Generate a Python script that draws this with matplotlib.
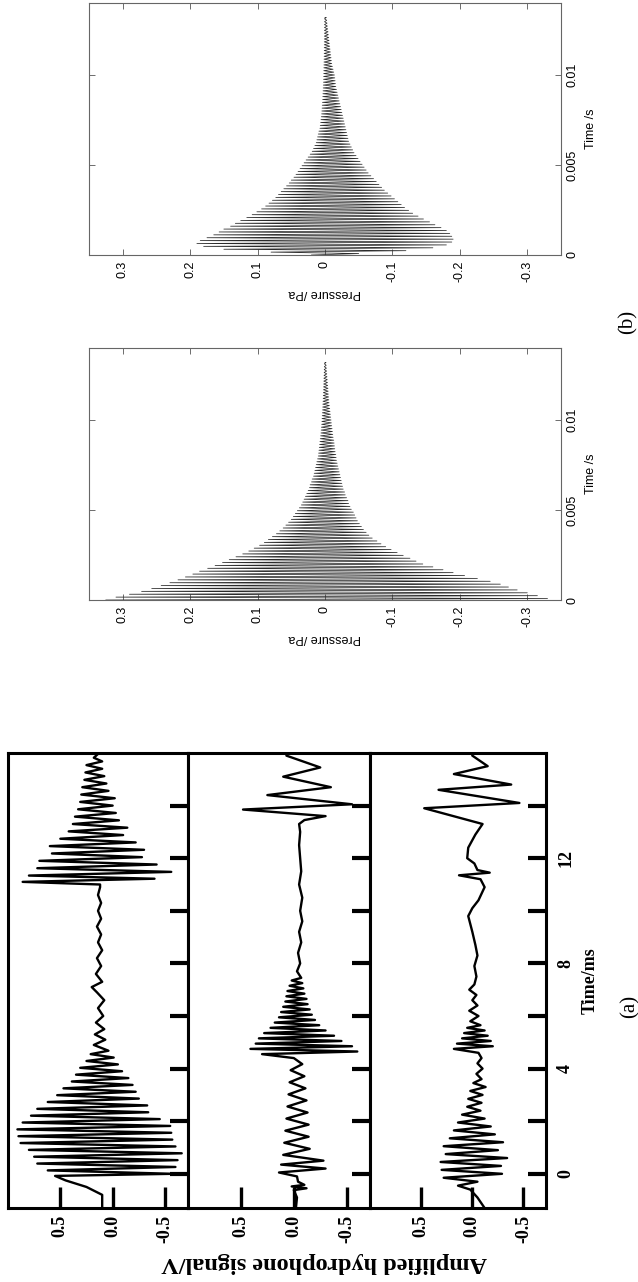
import matplotlib.pyplot as plt

# ---------------- data (a): hydrophone traces, time in ms, signal in V ----------------
s1_time = [-1.3, -0.8, -0.5, -0.25, -0.08,
           0.00, 0.13, 0.26, 0.39, 0.52, 0.65, 0.78, 0.91, 1.04, 1.17, 1.30, 1.43, 1.56, 1.69, 1.82,
           1.95, 2.08, 2.21, 2.34, 2.47, 2.60, 2.73, 2.86, 2.99, 3.12, 3.25, 3.38, 3.51, 3.64, 3.77,
           3.90, 4.03, 4.16, 4.29, 4.42, 4.55, 4.68,
           4.9, 5.1, 5.3, 5.5, 5.75, 6.0, 6.3, 6.6, 6.9, 7.1, 7.3, 7.6, 7.9, 8.2, 8.5, 8.8, 9.1, 9.4,
           9.7, 10.0, 10.3, 10.6, 10.9,
           11.00, 11.10, 11.22, 11.34, 11.48, 11.62, 11.76, 11.90, 12.04, 12.18, 12.32, 12.46, 12.60,
           12.74, 12.88, 13.02, 13.16, 13.30, 13.44, 13.58, 13.72, 13.86, 14.00, 14.14, 14.28, 14.42,
           14.56, 14.70, 14.84, 14.98, 15.12, 15.26, 15.40, 15.54, 15.68, 15.82, 16.0]
s1_volt = [0.10, 0.10, 0.25, 0.45, 0.55,
           -0.58, 0.62, -0.60, 0.72, -0.62, 0.75, -0.66, 0.80, -0.60, 0.88, -0.57, 0.90, -0.56, 0.91,
           -0.55, 0.86, -0.45, 0.78, -0.34, 0.72, -0.33, 0.62, -0.25, 0.53, -0.22, 0.47, -0.19, 0.39,
           -0.15, 0.35, -0.09, 0.31, -0.05, 0.25, -0.01, 0.21, 0.04,
           0.18, 0.07, 0.17, 0.08, 0.16, 0.09, 0.14, 0.08, 0.15, 0.20, 0.10, 0.16, 0.11, 0.15, 0.10,
           0.14, 0.11, 0.15, 0.11, 0.14, 0.11, 0.14, 0.12,
           0.12, 0.86, -0.40, 0.80, -0.56, 0.72, -0.42, 0.70, -0.28, 0.58, -0.30, 0.60, -0.22, 0.50,
           -0.10, 0.42, -0.14, 0.38, -0.06, 0.36, -0.03, 0.33, 0.00, 0.31, -0.02, 0.30, 0.04, 0.29,
           0.06, 0.27, 0.08, 0.26, 0.10, 0.25, 0.10, 0.18, 0.13]

s2_time = [-1.3, -0.9, -0.62, -0.55, -0.48, -0.42, -0.3, -0.1,
           0.05, 0.2, 0.35, 0.5,
           0.72, 0.95, 1.18, 1.41, 1.64, 1.87, 2.1, 2.33, 2.56, 2.79, 3.02, 3.25, 3.48, 3.71, 3.94,
           4.17, 4.4,
           4.55, 4.65, 4.75, 4.85, 4.95, 5.05, 5.15, 5.25, 5.35, 5.45, 5.55, 5.65, 5.75, 5.85, 5.95,
           6.05, 6.15, 6.25, 6.35, 6.45, 6.55, 6.65, 6.75, 6.85, 6.95, 7.05, 7.15, 7.25, 7.35, 7.45,
           7.7, 8.0, 8.4, 8.8, 9.2, 9.6, 10.0, 10.5, 11.0, 11.5, 12.0, 12.5, 13.0, 13.3,
           13.45, 13.6, 13.85, 14.05, 14.4, 14.7, 15.1, 15.45, 15.9, 16.0]
s2_volt = [-0.02, -0.03, 0.0, -0.12, 0.02, -0.10, -0.04, -0.03,
           0.14, -0.30, 0.12, -0.28,
           0.10, -0.15, 0.09, -0.14, 0.08, -0.14, 0.07, -0.13, 0.06, -0.12, 0.05, -0.11, 0.04,
           -0.10, 0.03, -0.08, 0.0,
           0.30, -0.60, 0.41, -0.55, 0.36, -0.45, 0.33, -0.38, 0.28, -0.30, 0.22, -0.24, 0.18, -0.20,
           0.14, -0.17, 0.12, -0.15, 0.10, -0.13, 0.08, -0.12, 0.07, -0.10, 0.06, -0.09, 0.04, -0.08,
           0.02, -0.07,
           -0.03, -0.06, -0.04, -0.07, -0.05, -0.08, -0.06, -0.08, -0.05, -0.07, -0.06, -0.05, -0.06,
           -0.05,
           -0.10, -0.30, 0.48, -0.55, 0.25, -0.35, 0.10, -0.25, 0.07, 0.05]

s3_time = [-1.3, -0.9, -0.6,
           -0.45, -0.3, -0.15, 0.0, 0.15, 0.3, 0.45, 0.6, 0.75, 0.9, 1.05, 1.2, 1.35, 1.5, 1.65, 1.8,
           1.95, 2.1, 2.25, 2.4, 2.55, 2.7, 2.85, 3.0, 3.15, 3.3, 3.45, 3.6,
           3.8, 4.0, 4.2, 4.4, 4.6,
           4.75, 4.85, 4.95, 5.05, 5.15, 5.25, 5.35, 5.45, 5.55, 5.65,
           5.8, 6.0, 6.2, 6.4, 6.6, 6.8, 7.0, 7.2, 7.5, 7.9, 8.3, 8.7, 9.2, 9.8, 10.1, 10.4, 10.9, 11.2,
           11.35, 11.45, 11.55, 11.8, 12.0, 12.4, 12.9, 13.3,
           13.9, 14.1, 14.6, 14.8, 15.2, 15.5, 15.9, 16.0]
s3_volt = [-0.12, -0.05, 0.02,
           0.14, -0.05, 0.28, -0.29, 0.30, -0.28, 0.31, -0.34, 0.26, -0.25, 0.28, -0.30, 0.22, -0.22,
           0.18, -0.18, 0.14, -0.12, 0.10, -0.08, 0.05, -0.09, 0.04, -0.10, 0.02, -0.13, -0.01, -0.09,
           -0.04, -0.10, -0.05, -0.09, -0.06,
           0.18, -0.20, 0.15, -0.18, 0.10, -0.15, 0.08, -0.12, 0.05, -0.08,
           0.02, -0.06, 0.03, -0.05, 0.0, -0.04, 0.03, -0.02, -0.04, -0.02, -0.05, -0.03, 0.0, 0.04,
           0.0, -0.06, -0.12, -0.08,
           0.13, -0.17, -0.05, -0.02, 0.05, 0.04, -0.03, -0.10,
           0.47, -0.46, 0.33, -0.38, 0.18, -0.15, 0.0, 0.0]

a_ticks = [0.5, 0.0, -0.5]
a_ticklabels = ["0.5", "0.0", "-0.5"]
ms_ticks = [0, 2, 4, 6, 8, 10, 12, 14]
ms_labels = ["0", "", "4", "", "8", "", "12", ""]

# ---------------- data (b): simulated pressure, peak values of each cycle ----------------
b_step = 0.00016   # one oscillation cycle, s
b_end = 0.0132
# upper box in picture
bt_pos = [0.02, 0.08, 0.15, 0.18, 0.19, 0.185, 0.175, 0.165, 0.157, 0.15,
          0.14, 0.133, 0.125, 0.116, 0.108, 0.101, 0.094, 0.088, 0.083, 0.078,
          0.073, 0.069, 0.065, 0.061, 0.057, 0.053, 0.050, 0.046, 0.043, 0.040,
          0.037, 0.034, 0.031, 0.028, 0.025, 0.022, 0.019, 0.017, 0.015, 0.013,
          0.012, 0.011, 0.010, 0.009, 0.0075, 0.007, 0.0065, 0.006, 0.0055, 0.005,
          0.0047, 0.0044, 0.0041, 0.0038, 0.0035, 0.0033, 0.0031, 0.0029, 0.0027, 0.0025,
          0.0023, 0.0022, 0.0021, 0.002, 0.0019, 0.0018, 0.0017, 0.0016, 0.0015, 0.0014,
          0.0013, 0.0012, 0.0012, 0.0011, 0.0011, 0.001, 0.001, 0.0009, 0.0009, 0.0008,
          0.0008, 0.0007, 0.0007]
bt_neg = [-0.05, -0.12, -0.16, -0.18, -0.188, -0.19, -0.188, -0.185, -0.18, -0.172,
          -0.163, -0.155, -0.146, -0.138, -0.13, -0.124, -0.118, -0.113, -0.108, -0.103,
          -0.098, -0.093, -0.088, -0.084, -0.08, -0.076, -0.072, -0.068, -0.064, -0.061,
          -0.058, -0.055, -0.052, -0.049, -0.046, -0.043, -0.041, -0.039, -0.037, -0.035,
          -0.034, -0.033, -0.032, -0.031, -0.030, -0.029, -0.028, -0.027, -0.026, -0.025,
          -0.024, -0.023, -0.022, -0.021, -0.020, -0.019, -0.018, -0.017, -0.016, -0.0155,
          -0.015, -0.0145, -0.014, -0.013, -0.012, -0.011, -0.010, -0.0095, -0.009, -0.0085,
          -0.008, -0.0075, -0.007, -0.0065, -0.006, -0.0055, -0.005, -0.0045, -0.004, -0.0035,
          -0.003, -0.0025, -0.002]
# lower box in picture
bl_pos = [0.325, 0.31, 0.29, 0.272, 0.257, 0.243, 0.23, 0.218, 0.207, 0.196,
          0.186, 0.174, 0.163, 0.152, 0.142, 0.132, 0.122, 0.113, 0.105, 0.097,
          0.09, 0.084, 0.078, 0.072, 0.067, 0.062, 0.058, 0.054, 0.050, 0.047,
          0.044, 0.041, 0.038, 0.035, 0.033, 0.031, 0.029, 0.027, 0.025, 0.023,
          0.022, 0.020, 0.019, 0.017, 0.016, 0.015, 0.014, 0.013, 0.012, 0.011,
          0.010, 0.0095, 0.009, 0.0085, 0.008, 0.0075, 0.007, 0.0065, 0.006, 0.0057,
          0.0054, 0.005, 0.0047, 0.0045, 0.0042, 0.004, 0.0037, 0.0035, 0.0033, 0.003,
          0.0028, 0.0026, 0.0025, 0.0023, 0.0022, 0.002, 0.0018, 0.0017, 0.0015, 0.0013,
          0.0012, 0.001, 0.0009]
bl_neg = [-0.33, -0.315, -0.30, -0.285, -0.272, -0.26, -0.245, -0.226, -0.207, -0.19,
          -0.175, -0.16, -0.145, -0.135, -0.126, -0.116, -0.107, -0.098, -0.09, -0.083,
          -0.077, -0.07, -0.065, -0.061, -0.057, -0.054, -0.051, -0.048, -0.046, -0.044,
          -0.042, -0.039, -0.037, -0.035, -0.034, -0.032, -0.030, -0.029, -0.027, -0.026,
          -0.025, -0.024, -0.023, -0.022, -0.021, -0.020, -0.019, -0.018, -0.017, -0.0165,
          -0.016, -0.015, -0.0145, -0.014, -0.0135, -0.013, -0.012, -0.0115, -0.011, -0.0105,
          -0.01, -0.0095, -0.009, -0.0085, -0.008, -0.0075, -0.007, -0.0065, -0.006, -0.0057,
          -0.0054, -0.005, -0.0047, -0.0044, -0.004, -0.0037, -0.0034, -0.003, -0.0027, -0.0024,
          -0.0021, -0.0018, -0.0015]

p_ticks = [0.3, 0.2, 0.1, 0, -0.1, -0.2, -0.3]
p_labels = ["0.3", "0.2", "0.1", "0", "-0.1", "-0.2", "-0.3"]
s_ticks = [0, 0.005, 0.01]
s_labels = ["0", "0.005", "0.01"]

# ---------------- figure (the whole page is turned 90 degrees) ----------------
W, H = 638, 1282
fig = plt.figure(figsize=(W / 100, H / 100), dpi=100)
serif = "Liberation Serif"
sans = "Liberation Sans"


def box(x0, y0, x1, y1):
    # pixel box, origin top-left -> axes
    return fig.add_axes([x0 / W, 1 - y1 / H, (x1 - x0) / W, (y1 - y0) / H])


def ringing(pos, neg, step):
    t, p = [], []
    for k, (a, b) in enumerate(zip(pos, neg)):
        t += [k * step, k * step + step / 2]
        p += [a, b]
    t.append(b_end)
    p.append(0.0)
    return t, p


# (b) two simulations
for (x0, y0, x1, y1), pos, neg in zip([(89, 3, 561, 255), (89, 348, 561, 600)],
                                      [bt_pos, bl_pos], [bt_neg, bl_neg]):
    ax = box(x0, y0, x1, y1)
    t, p = ringing(pos, neg, b_step)
    ax.plot(p, t, color="#2a2a2a", lw=0.55)
    ax.set_xlim(0.35, -0.35)
    ax.set_ylim(0, 0.014)
    ax.set_xticks(p_ticks)
    ax.set_xticklabels(p_labels, rotation=90, fontsize=9, family=sans)
    ax.yaxis.tick_right()
    ax.set_yticks(s_ticks)
    ax.set_yticklabels(s_labels, rotation=90, fontsize=9, family=sans, va="center")
    ax.tick_params(direction="in", length=4, width=0.6, color="#555",
                   top=True, bottom=True, left=True, right=True,
                   labelleft=False, labelright=True, labeltop=False, pad=4)
    ax.yaxis.set_label_position("right")
    ax.set_ylabel("Time /s", rotation=90, fontsize=9, family=sans, labelpad=5)
    ax.set_xlabel("Pressure /Pa", rotation=180, fontsize=9, family=sans, labelpad=4)
    for s in ax.spines.values():
        s.set_color("#666666")
        s.set_linewidth(0.8)

# (a) three measured traces
edges = [8, 188, 370, 546]
for i, (tt, vv) in enumerate([(s1_time, s1_volt), (s2_time, s2_volt), (s3_time, s3_volt)]):
    ax = box(edges[i], 753, edges[i + 1], 1208)
    ax.plot(vv, tt, color="black", lw=1.7)
    ax.set_xlim(1.0, -0.72)
    ax.set_ylim(-1.3, 16.0)
    ax.set_xticks(a_ticks)
    ax.set_xticklabels(a_ticklabels, rotation=90, fontsize=13, family=serif, weight="bold")
    ax.tick_params(axis="x", direction="in", length=15, width=2.4, bottom=True, top=False, pad=5)
    ax.yaxis.tick_right()
    ax.set_yticks(ms_ticks)
    ax.set_yticklabels(ms_labels, rotation=90, fontsize=13, family=serif, weight="bold", va="center")
    ax.tick_params(axis="y", direction="in", length=13, width=3, left=False, right=True,
                   labelleft=False, labelright=(i == 2), pad=8)
    for s in ax.spines.values():
        s.set_linewidth(2.2)

fig.text(324 / W, 1 - 1263 / H, "Amplified hydrophone signal/V", rotation=180,
         ha="center", va="center", fontsize=17.5, family=serif, weight="bold")
fig.text(590 / W, 1 - 981 / H, "Time/ms", rotation=90,
         ha="center", va="center", fontsize=13, family=serif, weight="bold")
fig.text(630 / W, 1 - 1006 / H, "(a)", rotation=90, ha="center", va="center",
         fontsize=15, family=serif)
fig.text(628 / W, 1 - 322 / H, "(b)", rotation=90, ha="center", va="center",
         fontsize=15, family=serif)

fig.savefig("out.png", dpi=100)
